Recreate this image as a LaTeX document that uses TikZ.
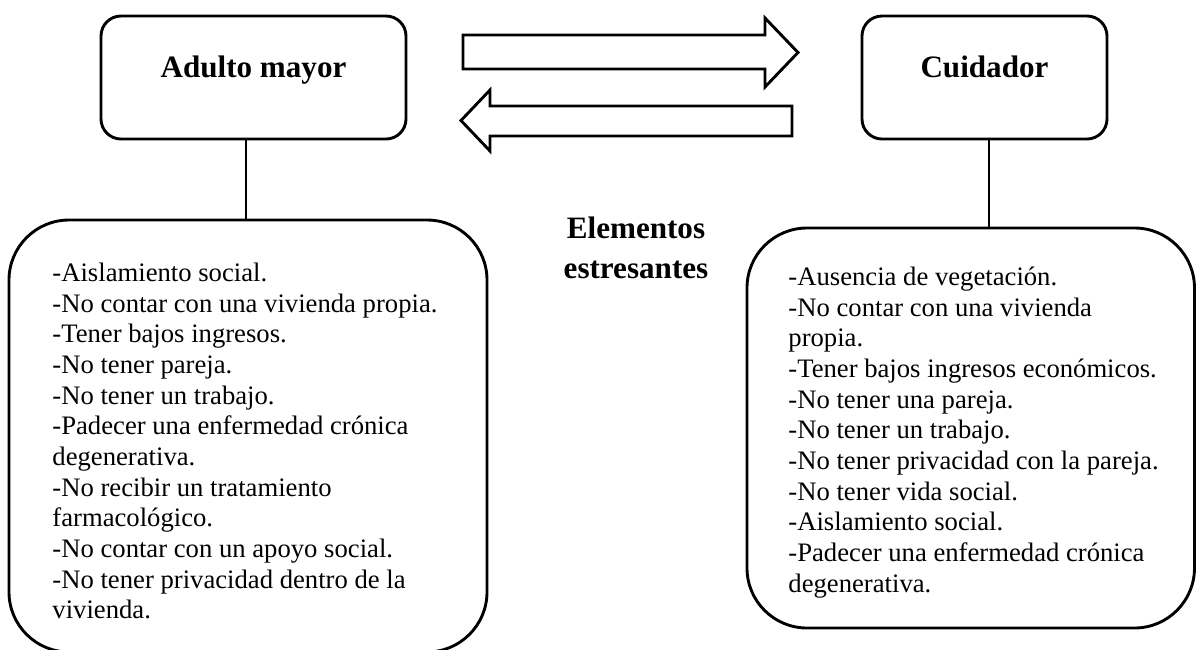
\documentclass[tikz,border=0pt]{standalone}
\usepackage{fontspec}
\setmainfont{Liberation Serif}
\begin{document}
\begin{tikzpicture}[x=0.45pt,y=-0.45pt,
  every path/.style={line width=1.3pt, line join=miter},
  smallbox/.style={draw, rounded corners=9pt, inner sep=0pt,
    font=\fontsize{14}{16}\selectfont\bfseries, text height=6pt, text depth=6pt,
    minimum height={123*0.45pt}},
  bigbox/.style={draw, rounded corners=27pt, inner sep=0pt},
  listtext/.style={anchor=north west, inner sep=0pt, align=left,
    font=\fontsize{12}{13.8}\selectfont},
  midtitle/.style={anchor=north, inner sep=0pt, align=center,
    font=\fontsize{14}{18}\selectfont\bfseries},
  blockarrow/.style={draw, line width=1.3pt, line join=miter, fill=white}
]
\useasboundingbox (0,0) rectangle (1196,649);

% top boxes
\node[smallbox, minimum width={305*0.45pt}] (am) at (253.5,77.5) {Adulto mayor};
\node[smallbox, minimum width={245*0.45pt}] (cu) at (984.5,77.5) {Cuidador};

% block arrows
\draw[blockarrow] (463,35) -- (765,35) -- (765,18) -- (798,52.5) -- (765,87)
  -- (765,69) -- (463,69) -- cycle;
\draw[blockarrow] (792,106) -- (490,106) -- (490,90) -- (461,120.5) -- (490,151)
  -- (490,136) -- (792,136) -- cycle;

% big boxes
\node[bigbox, minimum width={478*0.45pt}, minimum height={432*0.45pt}] (lb) at (248,436) {};
\node[bigbox, minimum width={447.5*0.45pt}, minimum height={400*0.45pt}] (rb) at (970.75,428) {};

% list texts
\node[listtext] (lt) at (51,258.5) {\strut-Aislamiento social.\\
-No contar con una vivienda propia.\\
-Tener bajos ingresos.\\
-No tener pareja.\\
-No tener un trabajo.\\
-Padecer una enfermedad crónica\\
degenerativa.\\
-No recibir un tratamiento\\
farmacológico.\\
-No contar con un apoyo social.\\
-No tener privacidad dentro de la\\
vivienda.};

\node[listtext] (rt) at (787,262.5) {\strut-Ausencia de vegetación.\\
-No contar con una vivienda\\
propia.\\
-Tener bajos ingresos económicos.\\
-No tener una pareja.\\
-No tener un trabajo.\\
-No tener privacidad con la pareja.\\
-No tener vida social.\\
-Aislamiento social.\\
-Padecer una enfermedad crónica\\
degenerativa.};

% middle title
\node[midtitle] (el) at (636,209) {\strut Elementos\\ estresantes};

% connectors
\draw ([xshift={-7.5*0.45pt}]am.south) -- ([xshift={-7.5*0.45pt}]am.south |- lb.north);
\draw ([xshift={4.5*0.45pt}]cu.south) -- ([xshift={4.5*0.45pt}]cu.south |- rb.north);
\end{tikzpicture}
\end{document}
